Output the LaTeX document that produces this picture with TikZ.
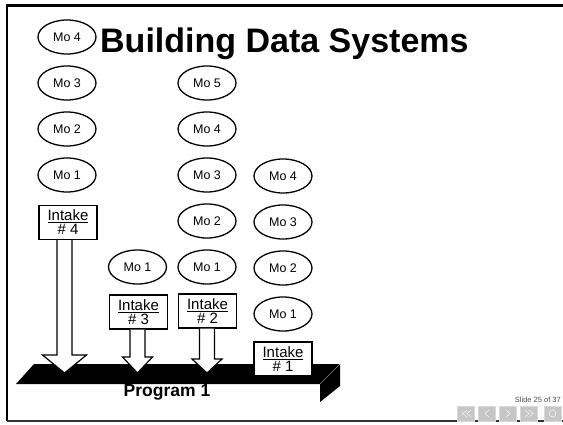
\documentclass[tikz,border=0pt]{standalone}
\usepackage{fontspec}
\setmainfont{Liberation Sans}
\usepackage{tikz}
\usetikzlibrary{positioning,calc,shapes}

\begin{document}
\begin{tikzpicture}[x=1pt, y=-1pt,
  month/.style={draw, ellipse, line width=1.3pt, minimum width=58pt, minimum height=34pt, inner sep=0pt, font=\fontsize{12.5}{13}\selectfont},
  intake/.style={draw, fill=white, line width=1.2pt, minimum width=58pt, minimum height=34pt, inner sep=0pt, align=center, font=\fontsize{15}{14}\selectfont},
  blockarrow/.style={draw, fill=white, line width=1.2pt},
  navbutton/.style={fill=gray!45, draw=gray!30}]
\useasboundingbox (0,0) rectangle (563,424);

% slide frame
\draw[line width=2pt] (7,421) -- (7,5);
\draw[line width=3pt] (6,5) -- (563,5);
\draw[line width=1.2pt, black!80] (7,421) -- (563,421);

\node[font=\bfseries\fontsize{34}{34}\selectfont, anchor=base west, inner sep=0pt] (title) at (100,52) {Building Data Systems};

% the program slab
\fill (16,384) -- (34,364) -- (340,364) -- (320,384) -- cycle;
\fill (320,384) -- (340,364) -- (340,386) -- (320,402) -- cycle;
\draw[gray, thin] (320,384) -- (340,364);
\node[font=\bfseries\fontsize{17.5}{17}\selectfont] (prog) at (167,392) {Program 1};

% months, one column per intake
\foreach \m in {1,...,4} {
  \node[month] (a\m) at (67,221-46*\m) {Mo \m};
}
\node[month] (b1) at (137.5,267) {Mo 1};
\foreach \m in {1,...,5} {
  \node[month] (c\m) at (207,313-46*\m) {Mo \m};
}
\foreach \m in {1,...,4} {
  \node[month] (d\m) at (283,360-46*\m) {Mo \m};
}

% intakes
\node[intake] (i4) at (68,222.5) {\underline{Intake}\\\# 4};
\node[intake] (i3) at (138.5,312) {\underline{Intake}\\\# 3};
\node[intake] (i2) at (207.5,311) {\underline{Intake}\\\# 2};
\node[intake] (i1) at (283,359) {\underline{Intake}\\\# 1};

\coordinate (ti4) at (64.5,373);
\coordinate (ti3) at (137.5,373);
\coordinate (ti2) at (207,373);

\foreach \n/\hw/\hl in {i4/22/18, i3/15/16, i2/15/14} {
  \draw[blockarrow] ($(t\n |- \n.south)+(-7.5,0)$) -- ($(t\n)+(-7.5,-\hl)$)
    -- ($(t\n)+(-\hw,-\hl)$) -- (t\n) -- ($(t\n)+(\hw,-\hl)$)
    -- ($(t\n)+(7.5,-\hl)$) -- ($(t\n |- \n.south)+(7.5,0)$);
}

% slide navigation
\node[anchor=base east, font=\fontsize{7.5}{7.5}\selectfont, text=black!70, inner sep=0pt] (slideno) at (561,402) {Slide 25 of 37};
\foreach \x [count=\k] in {457,478,499,520,544} {
  \fill[navbutton] (\x,406) rectangle (\x+17,421);
}
\draw[white] (462,410) -- (462,417) (467,410) -- (463,413.5) -- (467,417) (471,410) -- (467,413.5) -- (471,417);
\draw[white] (489,410) -- (485,413.5) -- (489,417);
\draw[white] (506,410) -- (510,413.5) -- (506,417);
\draw[white] (525,410) -- (529,413.5) -- (525,417) (529,410) -- (533,413.5) -- (529,417);
\draw[white] (552.5,413.5) circle (3.5pt);
\end{tikzpicture}
\end{document}
